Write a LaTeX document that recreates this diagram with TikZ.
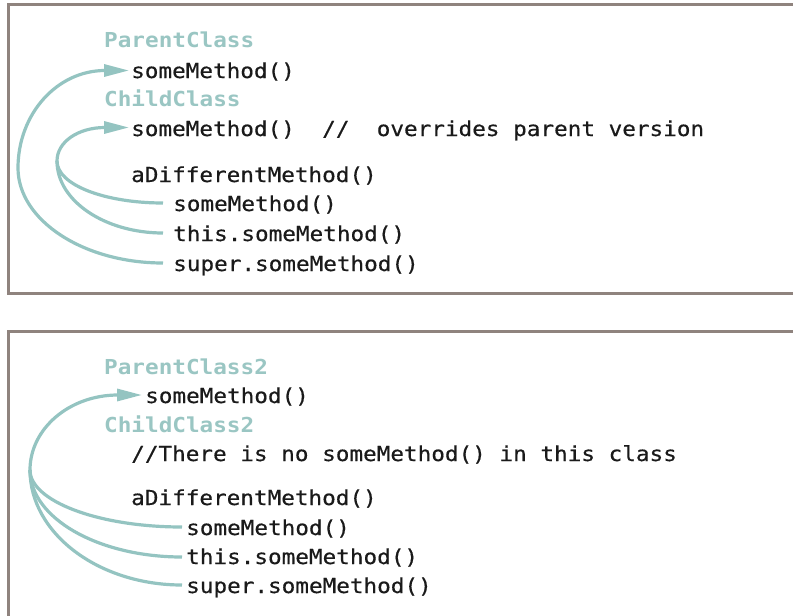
\documentclass[tikz,border=0pt]{standalone}
\usepackage{fontspec}
\setmonofont[FakeStretch=1.1,UprightFeatures={FakeBold=0.5}]{DejaVu Sans Mono}
\usetikzlibrary{arrows.meta,calc}
\definecolor{clsc}{HTML}{9AC6C3}
\definecolor{arrc}{HTML}{94C4C1}
\definecolor{framec}{HTML}{8F837E}
\definecolor{txtc}{HTML}{1A1A1A}
\tikzset{
  code/.style={font=\fontsize{20.6}{24}\selectfont\ttfamily, inner sep=0pt, anchor=base west, text=txtc},
  cls/.style={code, font=\fontsize{20.6}{24}\selectfont\ttfamily\bfseries, text=clsc},
  link/.style={draw=arrc, line width=3.2pt},
  tipped/.style={link, -{Triangle[length=25pt,width=12pt]}},
  frame/.style={draw=framec, line width=3pt}
}
\begin{document}
\begin{tikzpicture}[x=1pt,y=-1pt]
\useasboundingbox (0,0) rectangle (793,616);
\fill[white] (0,0) rectangle (793,616);
\begin{scope}
\clip (0,0) rectangle (793,616);
\draw[frame] (8,4) rectangle (820,293.5);
\draw[frame] (8,331) rectangle (820,660);
\end{scope}

% ---------- top box ----------
\node[cls]  (pc)  at (104,47)  {ParentClass};
\node[code] (psm) at (131,78)  {someMethod()};
\node[cls]  (cc)  at (104,106) {ChildClass};
\node[code] (csm) at (131,136) {someMethod()\ \ //\ \ overrides parent version};
\node[code] (adm) at (131,182) {aDifferentMethod()};
\node[code] (c1)  at (173,211) {someMethod()};
\node[code] (c2)  at (173,241) {this.someMethod()};
\node[code] (c3)  at (173,271) {super.someMethod()};

\coordinate (s1) at (163,203);
\coordinate (s2) at (163,233);
\coordinate (s3) at (163,263);
\coordinate (m1) at (57,161);
\coordinate (t1) at (129,127.5);
\coordinate (t0) at (129,70.5);

\draw[link] (s1) .. controls (105,203) and (57,185) .. (m1);
\draw[link] (s2) .. controls (105,233) and (57,201) .. (m1);
\draw[tipped] (m1) .. controls (57,142) and (78,127.5) .. (105,127.5) -- (t1);
\draw[tipped] (s3) .. controls (83,263) and (18,220) .. (18,168)
   .. controls (18,114) and (57,70.5) .. (105,70.5) -- (t0);

% ---------- bottom box ----------
\node[cls]  (pc2)  at (104,374) {ParentClass2};
\node[code] (psm2) at (145,403) {someMethod()};
\node[cls]  (cc2)  at (104,432) {ChildClass2};
\node[code] (cmt)  at (131,461) {//There is no someMethod() in this class};
\node[code] (adm2) at (131,505) {aDifferentMethod()};
\node[code] (d1)   at (186,535) {someMethod()};
\node[code] (d2)   at (186,564) {this.someMethod()};
\node[code] (d3)   at (186,593) {super.someMethod()};

\coordinate (u1) at (182,527);
\coordinate (u2) at (182,557);
\coordinate (u3) at (182,585);
\coordinate (m2) at (30,470);
\coordinate (t2) at (142,395);

\draw[link] (u1) .. controls (98,527) and (30,501) .. (m2);
\draw[link] (u2) .. controls (98,557) and (30,518) .. (m2);
\draw[link] (u3) .. controls (98,585) and (30,533) .. (m2);
\draw[tipped] (m2) .. controls (30,429) and (69,395) .. (118,395) -- (t2);
\end{tikzpicture}
\end{document}
